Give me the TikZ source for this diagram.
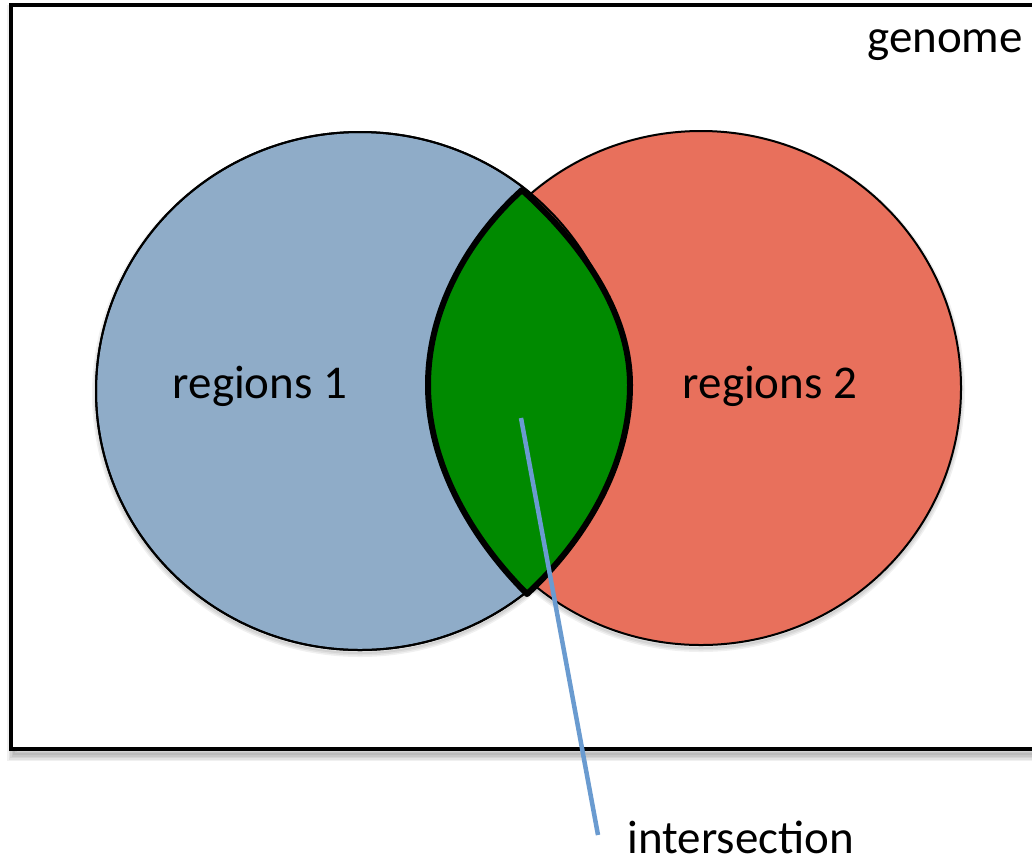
\documentclass[tikz,border=0pt]{standalone}
\usepackage{fontspec}
\setmainfont{Carlito}
\definecolor{regblue}{RGB}{143,172,200}
\definecolor{regred}{RGB}{232,112,92}
\definecolor{lensgreen}{RGB}{0,138,0}
\definecolor{lineblue}{RGB}{106,155,208}
\begin{document}
\begin{tikzpicture}[x=1pt,y=-1pt,
  lbl/.style={font=\fontsize{47}{56}\selectfont, inner sep=0pt, anchor=base},
  circ/.style={draw=black, line width=2pt},
  shadowstroke/.style={line width=#1, draw=black, draw opacity=0.06}]
\useasboundingbox (0,0) rectangle (1032,863);
\clip (0,0) rectangle (1032,863);
\fill[white] (0,0) rectangle (1032,863);
% genome box shadow
\foreach \w in {2,5,8,11,14} {
  \draw[shadowstroke=\w pt] (14,12) rectangle (1045,754);
}
\fill[white] (11,5) rectangle (1045,749);
\draw[line width=3.5pt] (11,5) rectangle (1045,749);
% circle shadows
\foreach \w in {2,5,8} {
  \draw[shadowstroke=\w pt] (360,394) ellipse [x radius=264, y radius=259];
  \draw[shadowstroke=\w pt] (701,391) ellipse [x radius=260, y radius=257];
}
\fill[white] (360,391) ellipse [x radius=264, y radius=259];
\fill[white] (701,388) ellipse [x radius=260, y radius=257];
% circles
\path[fill=regblue, circ] (360,391) ellipse [x radius=264, y radius=259];
\path[fill=regred, circ] (701,388) ellipse [x radius=260, y radius=257];
\draw[circ] (360,391) ellipse [x radius=264, y radius=259];
% lens
\path[fill=lensgreen, draw=black, line width=6pt, line join=round]
  (522,190) .. controls (472,235) and (428,305) .. (428,385)
  .. controls (428,470) and (478,545) .. (527,594)
  .. controls (580,545) and (630,470) .. (630,385)
  .. controls (630,305) and (572,235) .. (522,190) -- cycle;
% labels
\node[lbl] (r1) at (260,398) {regions 1};
\node[lbl] (r2) at (770,398) {regions 2};
\node[lbl] (gen) at (945,52) {genome};
\node[lbl] (inter) at (741,853) {intersection};
\coordinate (lensc) at (521,418);
\coordinate (tail) at (598,835);
\draw[lineblue, line width=4.5pt] (lensc) -- (tail);
\end{tikzpicture}
\end{document}
